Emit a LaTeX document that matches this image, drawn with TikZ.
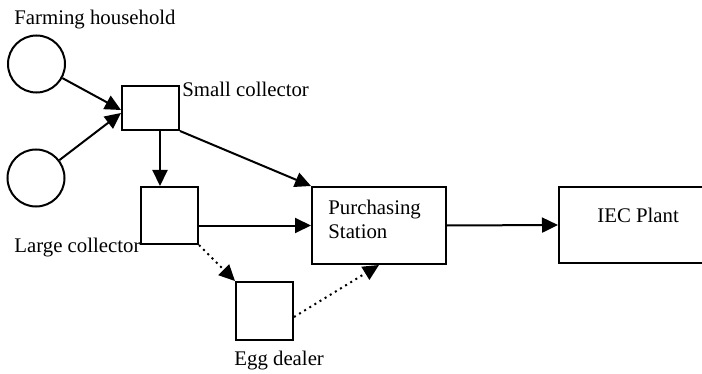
\documentclass[tikz,border=0pt]{standalone}
\usepackage{fontspec}
\setmainfont{Liberation Serif}
\usetikzlibrary{arrows.meta}
\begin{document}
\begin{tikzpicture}[x=0.5pt,y=-0.5pt,
  box/.style={draw, line width=1pt, inner sep=0pt},
  hh/.style={draw, circle, line width=1pt, inner sep=0pt, minimum size=28.5pt},
  lbl/.style={inner sep=0pt, anchor=base west, font=\fontsize{10.4}{12.5}\selectfont},
  arr/.style={line width=1pt, -{Triangle[length=8pt,width=7.5pt]}},
  darr/.style={arr, dotted}]
\useasboundingbox (0,0) rectangle (702,374);
% nodes
\node[hh] (c1) at (36.5,64) {};
\node[hh] (c2) at (36,178) {};
\node[box, minimum width=28.5pt, minimum height=22pt] (sc) at (150.5,108) {};
\node[box, minimum width=28.5pt, minimum height=28.5pt] (lc) at (169.5,215.5) {};
\node[box, minimum width=28.5pt, minimum height=29pt] (eg) at (264.5,311) {};
\node[box, minimum width=67pt, minimum height=38.5pt] (ps) at (379,225.5) {};
\node[box, minimum width=78pt, minimum height=38pt] (iec) at (637,225) {};
% labels
\node[lbl] (tfh) at (14,25) {Farming household};
\node[lbl] (tsc) at (182,97) {Small collector};
\node[lbl] (tlc) at (14,252) {Large collector};
\node[lbl] (teg) at (234,365) {Egg dealer};
\node[lbl] (tps1) at (328,214) {Purchasing};
\node[lbl] (tps2) at (328,238) {Station};
\node[lbl] (tiec) at (597,222) {IEC Plant};
% connectors
\draw[arr] (c1) -- ([yshift=-1pt]sc.west);
\draw[arr] (c2) -- ([yshift=-2.5pt]sc.west);
\draw[arr] ([xshift=4.75pt]sc.south) -- ([xshift=4.75pt]sc.south |- lc.north);
\draw[arr] (sc.south east) -- (ps.north west);
\draw[arr] (lc.east |- ps.west) -- (ps.west);
\draw[darr] (lc.south east) -- (eg.north west);
\draw[darr] ([yshift=-3pt]eg.east) -- (ps.south);
\draw[arr] (ps.east) -- (iec.west);
\end{tikzpicture}
\end{document}
